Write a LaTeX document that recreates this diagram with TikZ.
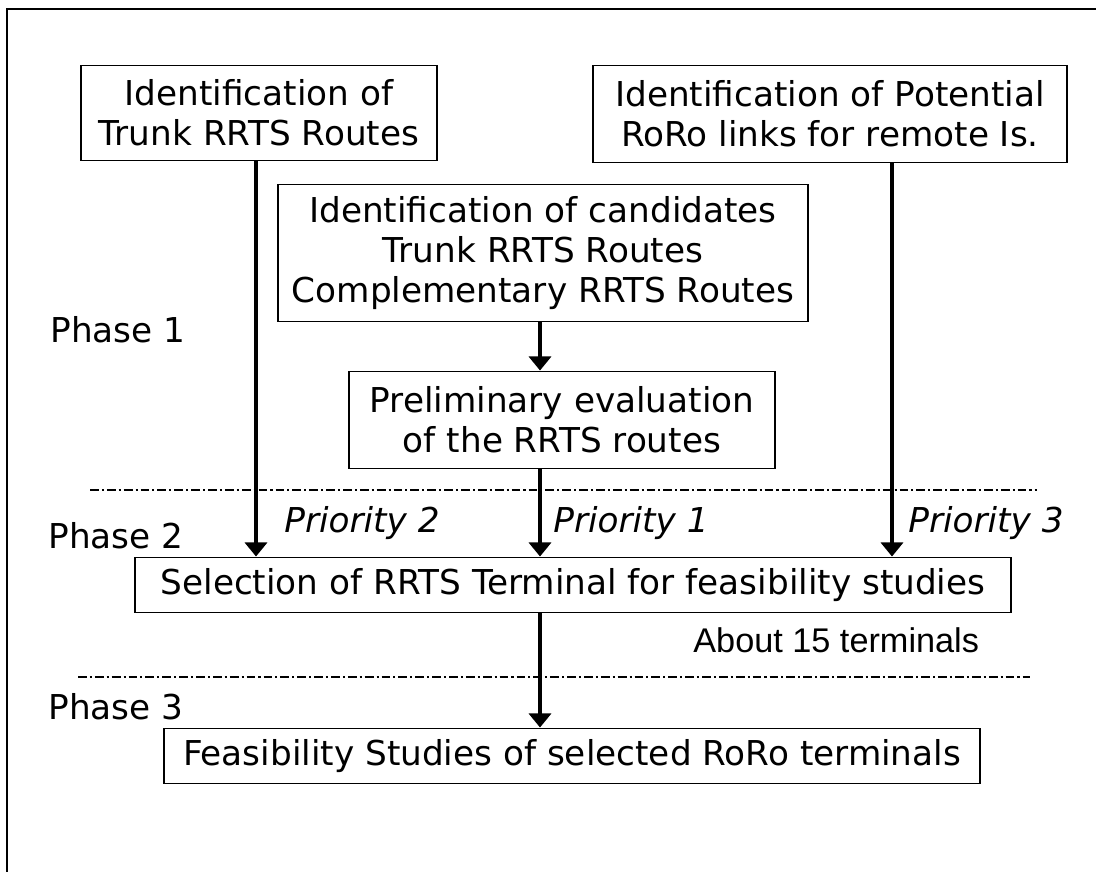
\documentclass[tikz,border=0pt]{standalone}
\usepackage{fontspec}
\setmainfont{DejaVu Sans}
\newfontfamily\notefont{Liberation Sans}
\usetikzlibrary{arrows.meta}
\tikzset{flowbox/.style={draw, line width=1.1pt, align=center, inner sep=0pt, font=\fontsize{19.5}{22.8}\selectfont}}
\tikzset{flowarr/.style={draw, line width=2.3pt, -{Triangle[width=12.5pt,length=8pt]}}}
\tikzset{phaseline/.style={line width=0.8pt, dash pattern=on 5pt off 1.7pt on 1.2pt off 1.7pt}}
\tikzset{lbl/.style={anchor=base west, inner sep=0pt, font=\fontsize{19.5}{22.8}\selectfont}}

\begin{document}
\begin{tikzpicture}[x=0.02cm, y=-0.02cm]
	\useasboundingbox (0,0) rectangle (1096,872);
	% frame, cut off at the right and at the bottom
	\draw[line width=1.2pt] (1096,9) -- (7,9) -- (7,872);
	%
	\node[flowbox, minimum width=7.12cm, minimum height=1.9cm] (trunk) at (259,113) {Identification of\\Trunk RRTS Routes};
	\node[flowbox, minimum width=9.48cm, minimum height=1.94cm] (roro) at (830,114) {Identification of Potential\\RoRo links for remote Is.};
	\node[flowbox, minimum width=10.6cm, minimum height=2.74cm] (cand) at (543,253) {Identification of candidates\\Trunk RRTS Routes\\Complementary RRTS Routes};
	\node[flowbox, minimum width=8.52cm, minimum height=1.94cm] (prelim) at (562,420) {Preliminary evaluation\\of the RRTS routes};
	\node[flowbox, minimum width=17.52cm, minimum height=1.1cm] (select) at (573,585) {Selection of RRTS Terminal for feasibility studies};
	\node[flowbox, minimum width=16.32cm, minimum height=1.1cm] (feas) at (572,756) {Feasibility Studies of selected RoRo terminals};
	%
	\node[lbl] (ph1) at (50,342) {Phase 1};
	\node[lbl] (ph2) at (48,548) {Phase 2};
	\node[lbl] (ph3) at (48,719) {Phase 3};
	\node[lbl, font=\fontsize{19.5}{22.8}\selectfont\itshape] (pri2) at (284,532) {Priority 2};
	\node[lbl, font=\fontsize{19.5}{22.8}\selectfont\itshape] (pri1) at (553,532) {Priority 1};
	\node[lbl, font=\fontsize{19.5}{22.8}\selectfont\itshape] (pri3) at (908,532) {Priority 3};
	\node[lbl, font=\fontsize{19.5}{22.8}\notefont] (about) at (693,652) {About 15 terminals};
	%
	\coordinate (axis) at (540,0);
	\coordinate (trunkx) at (256,0);
	\coordinate (rorox) at (892,0);
	\draw[phaseline] (90,490) -- (1037,490);
	\draw[phaseline] (78,677) -- (1030,677);
	%
	\draw[flowarr] (cand.south -| axis) -- (prelim.north -| axis);
	\draw[flowarr] (prelim.south -| axis) -- (select.north -| axis);
	\draw[flowarr] (select.south -| axis) -- (feas.north -| axis);
	\draw[flowarr] (trunk.south -| trunkx) -- (select.north -| trunkx);
	\draw[flowarr] (roro.south -| rorox) -- (select.north -| rorox);
\end{tikzpicture}
\end{document}
